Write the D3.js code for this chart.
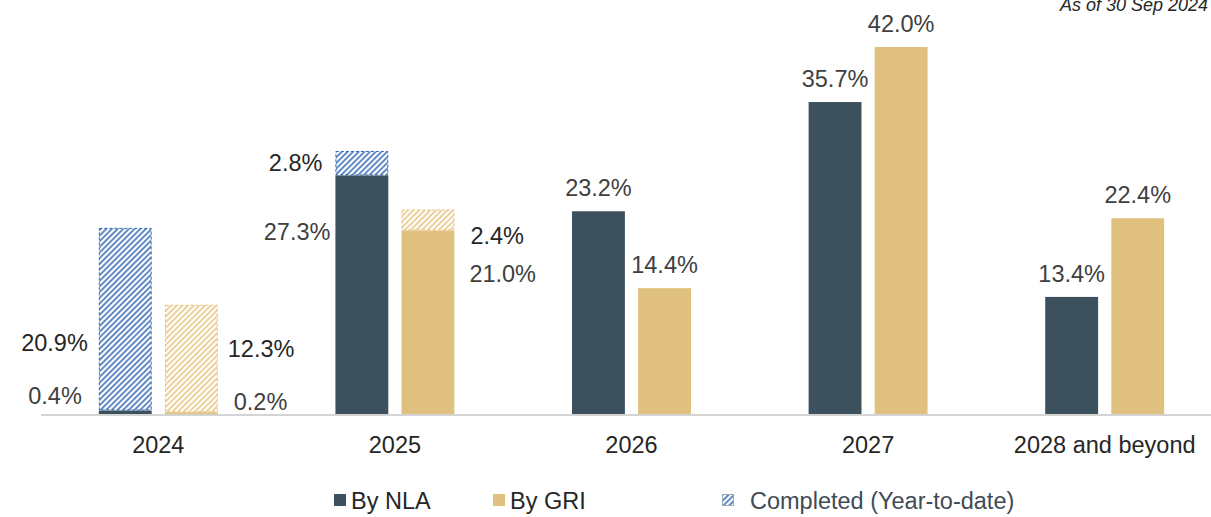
<!DOCTYPE html>
<html>
<head>
<meta charset="utf-8">
<script src="https://cdn.jsdelivr.net/npm/d3@7"></script>
<style>
    body { margin: 0; background: #fff; }
    svg { display: block; font-family: "Liberation Sans", Arial, sans-serif; }
</style>
</head>
<body>
<div id="chart"></div>
<script>
// Data
var years = ["2024", "2025", "2026", "2027", "2028 and beyond"];
var nlaExpiring = [0.4, 27.3, 23.2, 35.7, 13.4];
var nlaCompleted = [20.9, 2.8, 0, 0, 0];
var griExpiring = [0.2, 21.0, 14.4, 42.0, 22.4];
var griCompleted = [12.3, 2.4, 0, 0, 0];
var legendLabels = ["By NLA", "By GRI", "Completed (Year-to-date)"];

var width = 1211, height = 517;
var colNla = "#3d505d", colGri = "#e0c07e";
var hatchNla = "#3a6db4", hatchGri = "#e6c27c";
var fontSize = 23.5;

var svg = d3.select("#chart").append("svg")
    .attr("width", width)
    .attr("height", height);

// hatch patterns
var defs = svg.append("defs");
function addHatch(id, color, w) {
    var p = defs.append("pattern")
        .attr("id", id)
        .attr("patternUnits", "userSpaceOnUse")
        .attr("width", 4).attr("height", 4)
        .attr("patternTransform", "rotate(45)");
    p.append("line")
        .attr("x1", 1).attr("y1", 0).attr("x2", 1).attr("y2", 4)
        .attr("stroke", color)
        .attr("stroke-width", w);
}
addHatch("hatchNla", hatchNla, 1.6);
addHatch("hatchGri", hatchGri, 1.5);

var x = d3.scaleBand()
    .domain(years)
    .range([40, 1223]);

var inner = d3.scaleBand()
    .domain(["nla", "gri"])
    .range([0, x.bandwidth()])
    .paddingInner(0.2)
    .paddingOuter(0.89);

var y = d3.scaleLinear()
    .domain([0, 42])
    .range([414, 47]);

var series = [
    {key: "nla", exp: nlaExpiring, done: nlaCompleted, color: colNla, hatch: "url(#hatchNla)", hcol: hatchNla},
    {key: "gri", exp: griExpiring, done: griCompleted, color: colGri, hatch: "url(#hatchGri)", hcol: hatchGri}
];

// bars
series.forEach(function(s) {
    var g = svg.append("g");
    var rows = years.map(function(yr, i) { return {year: yr, exp: s.exp[i], done: s.done[i]}; });

    g.selectAll("rect.done")
        .data(rows.filter(function(d) { return d.done > 0; }))
        .join("rect")
        .attr("class", "done")
        .attr("x", function(d) { return x(d.year) + inner(s.key) + 0.5; })
        .attr("width", inner.bandwidth() - 1)
        .attr("y", function(d) { return y(d.exp + d.done) + 0.5; })
        .attr("height", function(d) { return y(d.exp) - y(d.exp + d.done) - 1; })
        .attr("fill", s.hatch)
        .attr("stroke", s.hcol)
        .attr("stroke-width", 1)
        .attr("stroke-dasharray", "3,2");

    g.selectAll("rect.exp")
        .data(rows)
        .join("rect")
        .attr("class", "exp")
        .attr("x", function(d) { return x(d.year) + inner(s.key); })
        .attr("width", inner.bandwidth())
        .attr("y", function(d) { return y(d.exp); })
        .attr("height", function(d) { return y(0) - y(d.exp); })
        .attr("fill", s.color);
});

// baseline
svg.append("line")
    .attr("x1", 41).attr("x2", width)
    .attr("y1", y(0) + 1).attr("y2", y(0) + 1)
    .attr("stroke", "#d4d4d4")
    .attr("stroke-width", 2);

// category labels
var xAxis = d3.axisBottom(x).tickSize(0).tickPadding(0);
var axisG = svg.append("g")
    .attr("transform", "translate(0," + (y(0) + 39) + ")")
    .call(xAxis);
axisG.select(".domain").remove();
axisG.selectAll("text")
    .attr("font-size", fontSize)
    .attr("font-family", "Liberation Sans, Arial, sans-serif")
    .attr("fill", "#262626")
    .attr("dy", 0);

// value labels
function fmt(v) { return v.toFixed(1) + "%"; }
var labels = svg.append("g").attr("font-size", fontSize);

function addLabel(px, py, anchor, txt, col) {
    labels.append("text")
        .attr("x", px).attr("y", py)
        .attr("text-anchor", anchor)
        .attr("fill", col || "#404040")
        .text(txt);
}

years.forEach(function(yr, i) {
    series.forEach(function(s) {
        var left = x(yr) + inner(s.key);
        var right = left + inner.bandwidth();
        var mid = left + inner.bandwidth() / 2;
        var e = s.exp[i], c = s.done[i];
        if (c === 0) {
            addLabel(mid, y(e) - 15, "middle", fmt(e));
        } else if (i === 0) {
            if (s.key === "nla") {
                addLabel(left - 11, y(0) - 63, "end", fmt(c), "#262626");
                addLabel(left - 17, y(0) - 10, "end", fmt(e));
            } else {
                addLabel(right + 10, y(0) - 57, "start", fmt(c), "#262626");
                addLabel(right + 16, y(0) - 4, "start", fmt(e));
            }
        } else {
            if (s.key === "nla") {
                addLabel(left - 13, y(e + c) + 20, "end", fmt(c), "#262626");
                addLabel(left - 5, y(e) + 65, "end", fmt(e));
            } else {
                addLabel(right + 16, y(e + c) + 34, "start", fmt(c), "#262626");
                addLabel(right + 15, y(e) + 51, "start", fmt(e));
            }
        }
    });
});

// note
svg.append("text")
    .attr("x", 1208).attr("y", 11)
    .attr("text-anchor", "end")
    .attr("font-size", 18)
    .attr("font-style", "italic")
    .attr("fill", "#262626")
    .text("As of 30 Sep 2024");

// legend
var legend = svg.append("g").attr("font-size", fontSize);
var legendX = [334, 493, 722];
var legendFill = [colNla, colGri, "url(#hatchNla)"];
var legendText = ["#262626", "#262626", "#404b55"];
legendLabels.forEach(function(lbl, i) {
    legend.append("rect")
        .attr("x", legendX[i] + (i === 2 ? 0.5 : 0))
        .attr("y", 494 + (i === 2 ? 0.5 : 0))
        .attr("width", i === 2 ? 11 : 12)
        .attr("height", i === 2 ? 11 : 12)
        .attr("fill", legendFill[i])
        .attr("stroke", i === 2 ? "#9aa7b5" : "none")
        .attr("stroke-width", 1);
    legend.append("text")
        .attr("x", legendX[i] + (i === 2 ? 28 : 17))
        .attr("y", 509)
        .attr("fill", legendText[i])
        .text(lbl);
});
</script>
</body>
</html>
